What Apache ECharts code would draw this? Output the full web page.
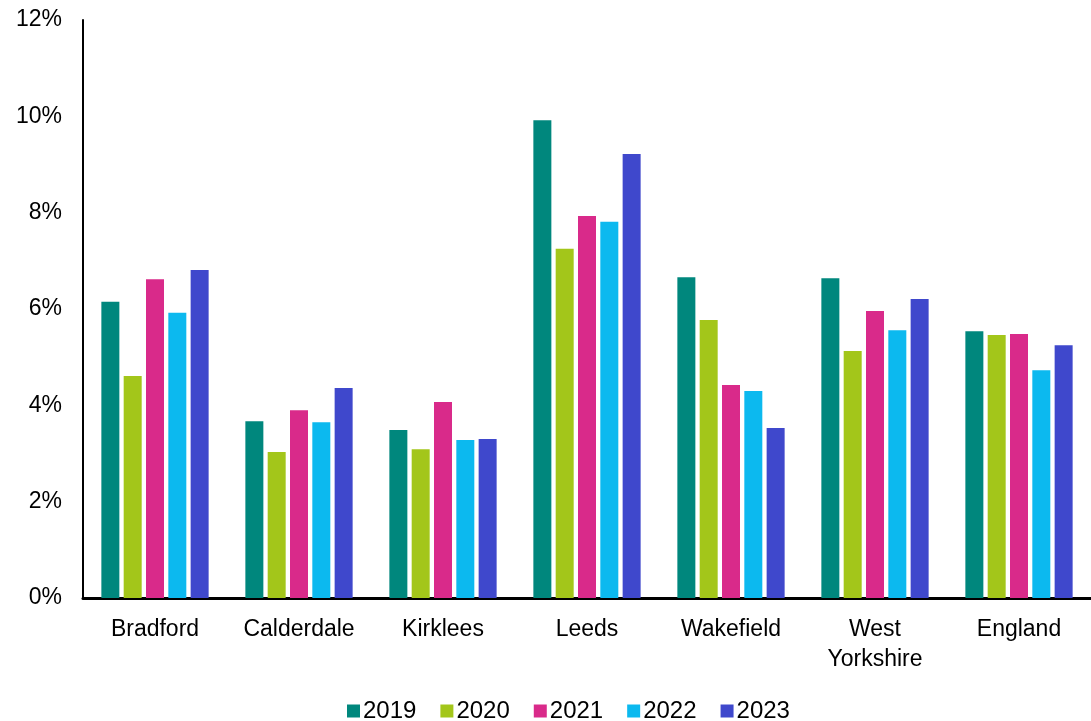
<!DOCTYPE html>
<html>
<head>
<meta charset="utf-8">
<script src="https://cdn.jsdelivr.net/npm/echarts@6/dist/echarts.min.js"></script>
<style>
html,body{margin:0;padding:0;background:#fff;}
#chart{width:1091px;height:721px;}
</style>
</head>
<body>
<div id="chart"></div>
<script>
const categories = ['Bradford', 'Calderdale', 'Kirklees', 'Leeds', 'Wakefield', 'West\nYorkshire', 'England'];
const years = ['2019', '2020', '2021', '2022', '2023'];
const v2019 = [6.15, 3.67, 3.49, 9.92, 6.66, 6.64, 5.54];
const v2020 = [4.61, 3.03, 3.09, 7.25, 5.77, 5.13, 5.46];
const v2021 = [6.62, 3.90, 4.07, 7.93, 4.42, 5.96, 5.48];
const v2022 = [5.92, 3.65, 3.28, 7.81, 4.30, 5.56, 4.73];
const v2023 = [6.81, 4.36, 3.30, 9.22, 3.53, 6.21, 5.25];
const seriesValues = [v2019, v2020, v2021, v2022, v2023];
const colors = ['#00877D', '#A3C61A', '#D92A8A', '#0CB9EF', '#3F48CC'];

const chart = echarts.init(document.getElementById('chart'));
const font = 'Liberation Sans, Arial, sans-serif';
chart.setOption({
  animation: false,
  color: colors,
  grid: { left: 83, top: 20, bottom: 123, width: 1019, containLabel: false },
  legend: {
    data: years,
    top: 694,
    left: 342,
    icon: 'rect',
    itemWidth: 13,
    itemHeight: 13,
    itemGap: 24,
    textStyle: { fontFamily: font, fontSize: 24, color: '#000', padding: [0, 0, 0, -2] }
  },
  xAxis: {
    type: 'category',
    data: categories,
    axisLine: { lineStyle: { color: '#000', width: 3 } },
    axisTick: { show: false },
    axisLabel: { fontFamily: font, fontSize: 23, color: '#000', margin: 17, lineHeight: 30, interval: 0 }
  },
  yAxis: {
    type: 'value',
    min: 0,
    max: 12,
    interval: 2,
    axisLine: { show: true, lineStyle: { color: '#000', width: 2 } },
    axisTick: { show: false },
    splitLine: { show: false },
    axisLabel: { fontFamily: font, fontSize: 23, color: '#000', margin: 21, formatter: '{value}%' }
  },
  series: years.map((y, i) => ({
    name: y,
    type: 'bar',
    data: seriesValues[i],
    barWidth: 18,
    barGap: '24%',
    itemStyle: { color: colors[i] }
  }))
});
</script>
</body>
</html>
